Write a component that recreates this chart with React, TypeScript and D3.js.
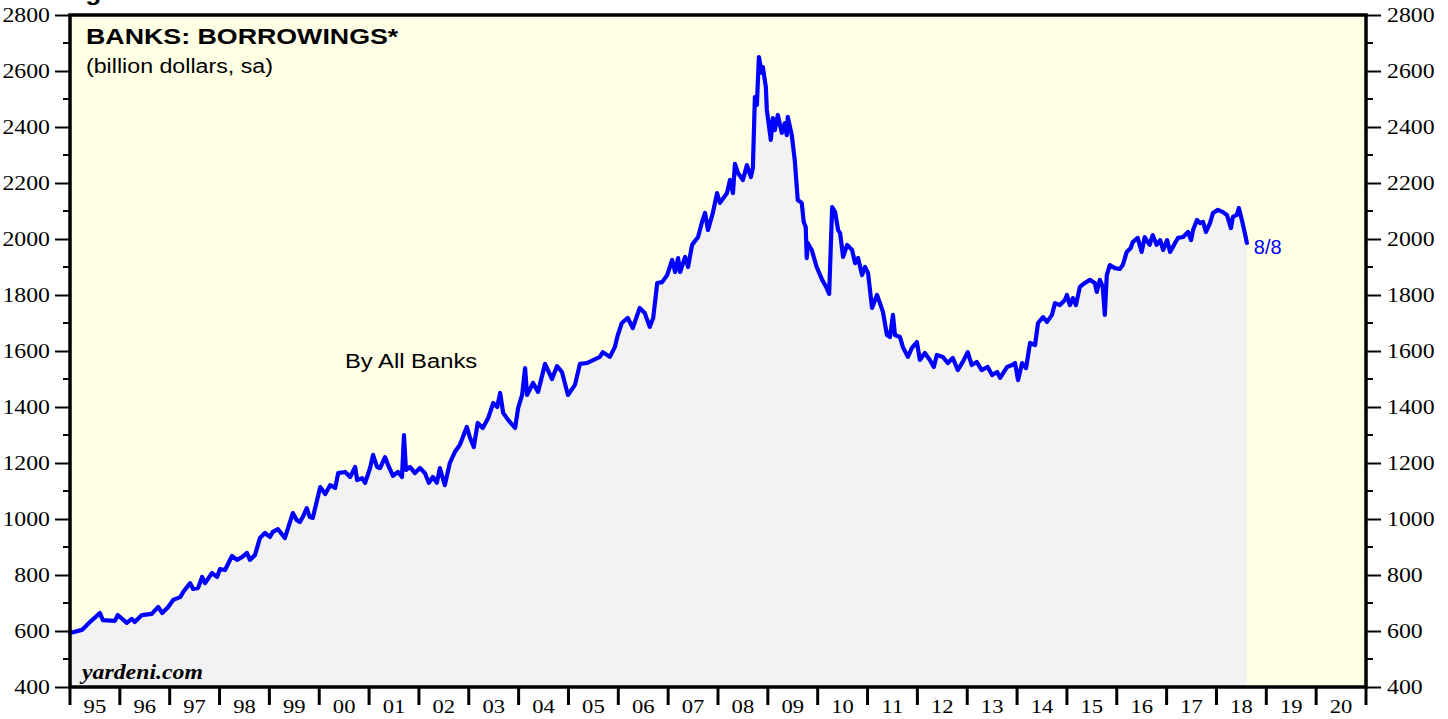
import { useEffect, useRef } from 'react';
import * as d3 from 'd3';

const weeks = [
  1995.0, 1995.24, 1995.4, 1995.6, 1995.66, 1995.9, 1995.96, 1996.14, 1996.24, 1996.3, 1996.44, 1996.64, 1996.77,
  1996.85, 1996.97, 1997.07, 1997.21, 1997.27, 1997.41, 1997.47, 1997.57, 1997.65, 1997.71, 1997.85, 1997.95,
  1998.01, 1998.11, 1998.25, 1998.35, 1998.45, 1998.55, 1998.61, 1998.71, 1998.81, 1998.91, 1999.01, 1999.07,
  1999.17, 1999.31, 1999.47, 1999.55, 1999.61, 1999.67, 1999.75, 1999.81, 1999.87, 2000.02, 2000.12, 2000.22,
  2000.32, 2000.38, 2000.52, 2000.62, 2000.72, 2000.76, 2000.86, 2000.92, 2001.02, 2001.08, 2001.16, 2001.22,
  2001.32, 2001.38, 2001.48, 2001.58, 2001.66, 2001.7, 2001.74, 2001.82, 2001.92, 2002.02, 2002.12, 2002.2,
  2002.28, 2002.36, 2002.42, 2002.52, 2002.62, 2002.72, 2002.82, 2002.96, 2003.02, 2003.1, 2003.18, 2003.28,
  2003.39, 2003.49, 2003.57, 2003.63, 2003.69, 2003.79, 2003.93, 2003.99, 2004.07, 2004.13, 2004.17, 2004.29,
  2004.39, 2004.53, 2004.67, 2004.77, 2004.87, 2004.99, 2005.13, 2005.23, 2005.37, 2005.63, 2005.69, 2005.83,
  2005.93, 2005.99, 2006.07, 2006.19, 2006.29, 2006.43, 2006.53, 2006.63, 2006.7, 2006.78, 2006.88, 2006.98,
  2007.08, 2007.14, 2007.2, 2007.24, 2007.34, 2007.4, 2007.48, 2007.6, 2007.68, 2007.74, 2007.8, 2007.9,
  2007.98, 2008.04, 2008.18, 2008.24, 2008.3, 2008.34, 2008.4, 2008.5, 2008.58, 2008.66, 2008.7, 2008.74,
  2008.78, 2008.82, 2008.88, 2008.9, 2008.96, 2008.98, 2009.06, 2009.1, 2009.14, 2009.2, 2009.28, 2009.34,
  2009.38, 2009.4, 2009.48, 2009.54, 2009.6, 2009.68, 2009.72, 2009.76, 2009.78, 2009.8, 2009.88, 2009.98,
  2010.09, 2010.17, 2010.23, 2010.29, 2010.35, 2010.41, 2010.45, 2010.51, 2010.59, 2010.69, 2010.75, 2010.81,
  2010.89, 2010.95, 2011.01, 2011.09, 2011.19, 2011.25, 2011.31, 2011.39, 2011.45, 2011.51, 2011.55, 2011.65,
  2011.71, 2011.81, 2011.89, 2011.99, 2012.05, 2012.15, 2012.25, 2012.33, 2012.39, 2012.51, 2012.61, 2012.71,
  2012.81, 2012.91, 2013.01, 2013.09, 2013.19, 2013.29, 2013.41, 2013.5, 2013.6, 2013.66, 2013.8, 2013.9,
  2013.96, 2014.02, 2014.1, 2014.18, 2014.26, 2014.36, 2014.42, 2014.52, 2014.6, 2014.7, 2014.76, 2014.86,
  2014.96, 2015.0, 2015.06, 2015.12, 2015.18, 2015.26, 2015.36, 2015.46, 2015.56, 2015.6, 2015.66, 2015.72,
  2015.76, 2015.8, 2015.86, 2015.96, 2016.06, 2016.12, 2016.2, 2016.28, 2016.32, 2016.42, 2016.5, 2016.56,
  2016.66, 2016.72, 2016.8, 2016.87, 2016.93, 2017.01, 2017.07, 2017.17, 2017.23, 2017.33, 2017.43, 2017.49,
  2017.53, 2017.61, 2017.67, 2017.73, 2017.79, 2017.87, 2017.93, 2018.03, 2018.13, 2018.21, 2018.29, 2018.33,
  2018.41, 2018.45, 2018.51, 2018.57, 2018.61,
];

const borrowings = [
  593, 604, 632, 664, 639, 636, 657, 629, 643, 632, 657, 661, 686,
  664, 686, 711, 721, 739, 771, 750, 754, 793, 771, 807, 793,
  821, 818, 868, 854, 864, 879, 854, 871, 932, 950, 936, 954,
  964, 932, 1021, 996, 989, 1007, 1039, 1007, 1004, 1114, 1089, 1121,
  1111, 1164, 1168, 1150, 1186, 1139, 1146, 1129, 1182, 1229, 1186, 1182,
  1221, 1193, 1154, 1168, 1150, 1300, 1175, 1186, 1164, 1182, 1164, 1129,
  1150, 1129, 1182, 1121, 1200, 1239, 1264, 1329, 1293, 1257, 1343, 1325,
  1361, 1414, 1400, 1450, 1379, 1354, 1325, 1396, 1443, 1539, 1443, 1486,
  1454, 1554, 1500, 1546, 1525, 1443, 1479, 1554, 1557, 1579, 1596, 1579,
  1614, 1657, 1700, 1718, 1682, 1754, 1736, 1686, 1718, 1843, 1846, 1871,
  1925, 1882, 1932, 1882, 1936, 1900, 1979, 2007, 2061, 2093, 2032, 2096,
  2164, 2129, 2164, 2211, 2164, 2268, 2236, 2211, 2264, 2221, 2254, 2507,
  2479, 2650, 2593, 2614, 2543, 2461, 2354, 2432, 2389, 2443, 2379, 2414,
  2371, 2436, 2371, 2282, 2139, 2129, 2061, 2043, 1932, 1986, 1961, 1900,
  1854, 1829, 1804, 2114, 2096, 2032, 2021, 1936, 1979, 1961, 1914, 1932,
  1871, 1900, 1879, 1754, 1800, 1771, 1739, 1657, 1650, 1729, 1657, 1650,
  1614, 1579, 1611, 1632, 1568, 1593, 1568, 1543, 1586, 1579, 1557, 1575,
  1532, 1561, 1596, 1550, 1561, 1532, 1543, 1514, 1525, 1504, 1543, 1550,
  1557, 1496, 1557, 1539, 1629, 1621, 1700, 1721, 1704, 1729, 1771, 1764,
  1782, 1800, 1764, 1789, 1764, 1829, 1843, 1854, 1843, 1811, 1854, 1829,
  1729, 1871, 1907, 1896, 1893, 1907, 1954, 1968, 1989, 2004, 1954, 2007,
  1979, 2014, 1979, 1996, 1961, 1996, 1954, 1986, 2004, 2007, 2025, 1996,
  2032, 2068, 2057, 2061, 2025, 2057, 2093, 2104, 2096, 2086, 2039, 2079,
  2086, 2111, 2068, 2021, 1986,
];

const yearLabels = ['95', '96', '97', '98', '99', '00', '01', '02', '03', '04', '05', '06', '07',
  '08', '09', '10', '11', '12', '13', '14', '15', '16', '17', '18', '19', '20'];
const yMajor = [400, 600, 800, 1000, 1200, 1400, 1600, 1800, 2000, 2200, 2400, 2600, 2800];
const lastLabel = '8/8';

const W = 1448;
const H = 719;
const margin = { top: 15, right: 82, bottom: 32, left: 70 };
const STRETCH = 1.19; // the original's lettering is drawn wide

const serif = '"Liberation Serif", "Times New Roman", serif';
const sans = '"Liberation Sans", Arial, Helvetica, sans-serif';

const App = () => {
  const ref = useRef<SVGSVGElement>(null);

  useEffect(() => {
    const svg = d3.select(ref.current);
    svg.selectAll('*').remove();

    const x0 = margin.left;
    const x1 = W - margin.right;
    const y0 = margin.top;
    const y1 = H - margin.bottom;

    const x = d3.scaleLinear().domain([1995, 1995 + yearLabels.length]).range([x0, x1]);
    const y = d3.scaleLinear().domain([400, 2800]).range([y1, y0]);

    const data = weeks.map((w, i) => ({ x: w, y: borrowings[i] }));

    // wide text helper
    const label = (tx: number, ty: number, str: string, font: string, size: number, anchor = 'start') =>
      svg.append('text')
        .attr('transform', `translate(${tx},${ty}) scale(${STRETCH},1)`)
        .attr('text-anchor', anchor)
        .attr('font-family', font)
        .attr('font-size', size)
        .text(str);

    // plot background
    svg.append('rect')
      .attr('x', x0).attr('y', y0)
      .attr('width', x1 - x0).attr('height', y1 - y0)
      .attr('fill', '#FFFFE6');

    const area = d3.area<{ x: number; y: number }>()
      .x((d) => x(d.x))
      .y0(y(400))
      .y1((d) => y(d.y));

    svg.append('path').datum(data).attr('d', area).attr('fill', '#F2F2F2');

    const line = d3.line<{ x: number; y: number }>()
      .x((d) => x(d.x))
      .y((d) => y(d.y));

    svg.append('path')
      .datum(data)
      .attr('d', line)
      .attr('fill', 'none')
      .attr('stroke', '#0000FF')
      .attr('stroke-width', 4.2)
      .attr('stroke-linejoin', 'round')
      .attr('stroke-linecap', 'round');

    // y axes (left and right) with minor ticks at 100
    const minor = d3.range(500, 2800, 200);
    const leftAxis = d3.axisLeft(y).tickValues(yMajor).tickSize(15).tickPadding(5).tickFormat(d3.format('d'));
    const rightAxis = d3.axisRight(y).tickValues(yMajor).tickSize(15).tickPadding(6).tickFormat(d3.format('d'));

    const styleAxis = (g: d3.Selection<SVGGElement, unknown, null, undefined>) => {
      g.select('.domain').remove();
      g.selectAll('line').attr('stroke', '#000').attr('stroke-width', 2);
      g.selectAll<SVGTextElement, unknown>('text')
        .attr('font-family', serif)
        .attr('font-size', 20)
        .attr('fill', '#000')
        .each(function () {
          const t = d3.select(this);
          const tx = +t.attr('x');
          t.attr('x', 0).attr('transform', `translate(${tx},0) scale(${STRETCH},1)`);
        });
    };

    const gl = svg.append('g').attr('transform', `translate(${x0},0)`).call(leftAxis);
    styleAxis(gl);
    const gr = svg.append('g').attr('transform', `translate(${x1},0)`).call(rightAxis);
    styleAxis(gr);

    minor.forEach((v) => {
      svg.append('line').attr('x1', x0 - 7).attr('x2', x0).attr('y1', y(v)).attr('y2', y(v))
        .attr('stroke', '#000').attr('stroke-width', 2);
      svg.append('line').attr('x1', x1).attr('x2', x1 + 7).attr('y1', y(v)).attr('y2', y(v))
        .attr('stroke', '#000').attr('stroke-width', 2);
    });

    // bottom year ticks and labels
    const years = d3.range(1995, 1995 + yearLabels.length + 1);
    svg.append('g').selectAll('line').data(years).join('line')
      .attr('x1', (d) => x(d)).attr('x2', (d) => x(d))
      .attr('y1', y1).attr('y2', y1 + 18)
      .attr('stroke', '#000').attr('stroke-width', 3);

    yearLabels.forEach((d, i) => label(x(1995 + i + 0.5), H - 6, d, serif, 19, 'middle'));

    // frame
    svg.append('rect')
      .attr('x', x0).attr('y', y0)
      .attr('width', x1 - x0).attr('height', y1 - y0)
      .attr('fill', 'none')
      .attr('stroke', '#000')
      .attr('stroke-width', 3.5);

    // texts
    label(62, 0, 'Figure 1.', sans, 22).attr('font-weight', 'bold');
    label(86, 44, 'BANKS: BORROWINGS*', sans, 22.5).attr('font-weight', 'bold');
    label(86, 73, '(billion dollars, sa)', sans, 19.5);
    label(345, 368, 'By All Banks', sans, 20);
    label(82, 679, 'yardeni.com', serif, 20)
      .attr('font-weight', 'bold').attr('font-style', 'italic');

    const last = data[data.length - 1];
    svg.append('text')
      .attr('x', x(last.x) + 7).attr('y', y(last.y) + 11)
      .attr('font-family', sans).attr('font-size', 20).attr('fill', '#0000FF')
      .text(lastLabel);
  }, []);

  return (
    <svg
      ref={ref}
      width={W}
      height={H}
      style={{ position: 'absolute', left: 0, top: 0, background: '#fff' }}
    />
  );
};

export default App;
